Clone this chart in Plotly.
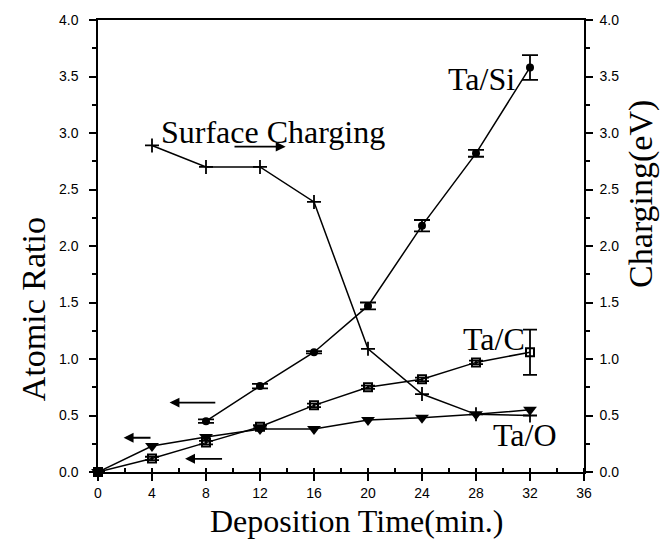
import plotly.graph_objects as go

# ---- data ----
time_si = [8, 12, 16, 20, 24, 28, 32]
ta_si = [0.45, 0.76, 1.06, 1.47, 2.18, 2.82, 3.58]
ta_si_err = [0.015, 0.02, 0.01, 0.03, 0.05, 0.03, 0.11]

time_c = [0, 4, 8, 12, 16, 20, 24, 28, 32]
ta_c = [0.0, 0.12, 0.26, 0.40, 0.59, 0.75, 0.82, 0.97, 1.06]
ta_c_err = [0.0, 0.015, 0.015, 0.015, 0.015, 0.015, 0.015, 0.015, 0.20]

time_o = [0, 4, 8, 12, 16, 20, 24, 28, 32]
ta_o = [0.0, 0.23, 0.31, 0.38, 0.38, 0.46, 0.48, 0.51, 0.55]

time_sc = [4, 8, 12, 16, 20, 24, 28, 32]
charging = [2.89, 2.70, 2.70, 2.39, 1.09, 0.69, 0.51, 0.50]

origin_x = [0]
origin_y = [0.0]

x_ticks = [0, 4, 8, 12, 16, 20, 24, 28, 32, 36]
y_ticks = [0.0, 0.5, 1.0, 1.5, 2.0, 2.5, 3.0, 3.5, 4.0]

SERIF = "Liberation Serif, Times New Roman, serif"
SANS = "Liberation Sans, Arial, sans-serif"
BLK = "black"

fig = go.Figure()

fig.add_trace(go.Scatter(
    x=time_o, y=ta_o, mode="lines+markers", cliponaxis=False,
    line=dict(color=BLK, width=1.5),
    marker=dict(symbol="triangle-down", size=12, color=BLK),
))
fig.add_trace(go.Scatter(
    x=time_c, y=ta_c, mode="lines+markers", cliponaxis=False,
    line=dict(color=BLK, width=1.5),
    marker=dict(symbol="square-open", size=8, color=BLK, line=dict(width=2, color=BLK)),
    error_y=dict(type="data", array=ta_c_err, width=7, thickness=1.8, color=BLK),
))
fig.add_trace(go.Scatter(
    x=time_si, y=ta_si, mode="lines+markers", cliponaxis=False,
    line=dict(color=BLK, width=1.5),
    marker=dict(symbol="circle", size=8, color=BLK),
    error_y=dict(type="data", array=ta_si_err, width=8, thickness=1.8, color=BLK),
))
fig.add_trace(go.Scatter(
    x=time_sc, y=charging, yaxis="y2", mode="lines+markers", cliponaxis=False,
    line=dict(color=BLK, width=1.5),
    marker=dict(symbol="cross-thin", size=10, color=BLK, line=dict(width=1.8, color=BLK)),
))
fig.add_trace(go.Scatter(
    x=origin_x, y=origin_y, mode="markers", cliponaxis=False,
    marker=dict(symbol="circle", size=10, color=BLK),
))

axis_common = dict(
    showgrid=False, zeroline=False, showline=True, linecolor=BLK, linewidth=1.5,
    ticks="outside", ticklen=7, tickwidth=1.5, tickcolor=BLK,
    tickfont=dict(family=SANS, size=14, color=BLK),
)

fig.update_layout(
    width=665, height=544,
    margin=dict(l=98, r=81, t=12, b=72),
    plot_bgcolor="white", paper_bgcolor="white",
    showlegend=False,
    xaxis=dict(range=[0, 36], tickvals=x_ticks, mirror=True,
               minor=dict(dtick=2, tick0=0, ticks="inside", ticklen=4, tickcolor=BLK, tickwidth=1.5),
               **axis_common),
    yaxis=dict(range=[0, 4], tickvals=y_ticks, tickformat=".1f", ticklabelstandoff=8,
               minor=dict(dtick=0.25, tick0=0, ticks="outside", ticklen=4, tickcolor=BLK, tickwidth=1.5),
               **axis_common),
    yaxis2=dict(range=[0, 4], tickvals=y_ticks, tickformat=".1f", overlaying="y", side="right",
                ticklabelstandoff=4,
                minor=dict(dtick=0.25, tick0=0, ticks="outside", ticklen=4, tickcolor=BLK, tickwidth=1.5),
                **axis_common),
)

tfont = dict(family=SERIF, size=32, color=BLK)
vfont = dict(family=SERIF, size=34, color=BLK)

# axis titles
fig.add_annotation(text="Deposition Time(min.)", xref="paper", yref="paper",
                   x=0.531, y=-0.109, xanchor="center", yanchor="middle", showarrow=False, font=tfont)
fig.add_annotation(text="Atomic Ratio", xref="paper", yref="paper", textangle=-90,
                   x=-0.134, y=0.36, xanchor="center", yanchor="middle", showarrow=False, font=vfont)
fig.add_annotation(text="Charging(eV)", xref="paper", yref="paper", textangle=-90,
                   x=1.117, y=0.615, xanchor="center", yanchor="middle", showarrow=False, font=vfont)

# series labels
fig.add_annotation(text="Surface Charging", x=4.55, y=3.01, xanchor="left", yanchor="middle",
                   showarrow=False, font=tfont)
fig.add_annotation(text="Ta/Si", x=25.8, y=3.48, xanchor="left", yanchor="middle",
                   showarrow=False, font=tfont)
fig.add_annotation(text="Ta/C", x=26.9, y=1.18, xanchor="left", yanchor="middle",
                   showarrow=False, font=tfont)
fig.add_annotation(text="Ta/O", x=29.1, y=0.33, xanchor="left", yanchor="middle",
                   showarrow=False, font=tfont)

# arrows pointing to the axis each series belongs to
arrows = [
    (8.8, 0.614, 5.3, 0.614),
    (4.0, 0.303, 1.9, 0.303),
    (9.3, 0.117, 6.45, 0.117),
    (10.0, 2.879, 13.9, 2.879),
]
for x0, y0, x1, y1 in arrows:
    fig.add_annotation(x=x1, y=y1, ax=x0, ay=y0, xref="x", yref="y", axref="x", ayref="y",
                       text="", showarrow=True, arrowhead=2, arrowsize=1.1, arrowwidth=1.8,
                       arrowcolor=BLK)

fig.write_html("out.html")
